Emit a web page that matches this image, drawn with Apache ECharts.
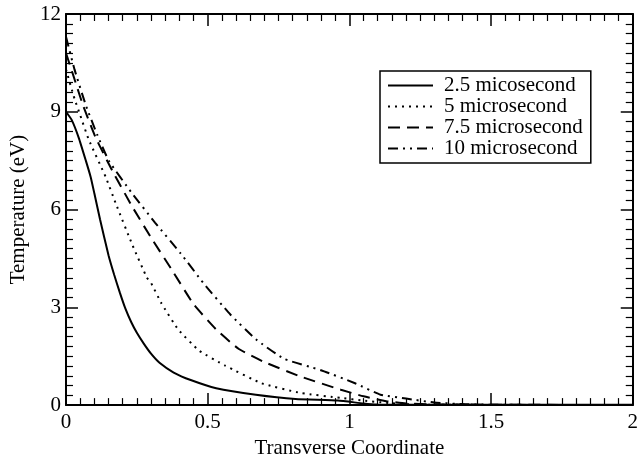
<!DOCTYPE html>
<html>
<head>
<meta charset="utf-8">
<script src="https://cdn.jsdelivr.net/npm/echarts@6/dist/echarts.min.js"></script>
<style>
  html, body { margin: 0; padding: 0; background: #fff; }
  #chart { width: 641px; height: 464px; }
</style>
</head>
<body>
<div id="chart"></div>
<script>
// Temperature profiles across the transverse coordinate at four times
const seriesNames = ['2.5 micosecond', '5 microsecond', '7.5 microsecond', '10 microsecond'];

const t25 = [[0,9],[0.02,8.75],[0.045,8.2],[0.07,7.5],[0.087,7.0],[0.1,6.5],[0.12,5.7],[0.15,4.6],[0.17,4.0],[0.19,3.45],[0.21,2.95],[0.23,2.55],[0.25,2.22],[0.275,1.88],[0.3,1.58],[0.33,1.3],[0.38,1.0],[0.44,0.77],[0.53,0.52],[0.67,0.32],[0.81,0.19],[0.96,0.14],[1.05,0.05],[1.1,0.02],[1.3,0.01],[2,0.01]];

const t5 = [[0,10.3],[0.03,9.4],[0.05,8.9],[0.08,8.15],[0.14,7.0],[0.175,6.2],[0.235,4.9],[0.285,3.92],[0.3,3.75],[0.337,3.12],[0.396,2.32],[0.47,1.67],[0.56,1.22],[0.69,0.67],[0.83,0.37],[0.97,0.22],[1.05,0.14],[1.13,0.07],[1.2,0.03],[1.3,0.01],[2,0]];

const t75 = [[0,10.8],[0.03,10.0],[0.06,9.2],[0.105,8.2],[0.163,7.2],[0.233,6.1],[0.303,5.1],[0.37,4.2],[0.45,3.1],[0.53,2.32],[0.61,1.72],[0.7,1.32],[0.83,0.87],[0.97,0.47],[1.05,0.27],[1.13,0.12],[1.2,0.05],[1.3,0.02],[2,0]];

const t10 = [[0,11.3],[0.03,10.3],[0.07,9.2],[0.11,8.3],[0.151,7.5],[0.233,6.5],[0.314,5.6],[0.405,4.65],[0.487,3.72],[0.58,2.78],[0.67,2.02],[0.77,1.42],[0.9,1.07],[1.02,0.67],[1.11,0.32],[1.2,0.2],[1.3,0.08],[1.4,0.03],[1.5,0.01],[2,0]];

const xTicks = { min: 0, max: 2, interval: 0.5 };
const yTicks = { min: 0, max: 12, interval: 3 };

const font = 'Liberation Serif';
const ink = '#000';

function frameAxis(extra) {
  return Object.assign({
    axisLine: { show: true, onZero: false, lineStyle: { color: ink, width: 2 } },
    axisTick: { show: true, inside: true, length: 12, lineStyle: { color: ink, width: 1.5 } },
    minorTick: { show: true, splitNumber: 10, length: 7, lineStyle: { color: ink, width: 1.2 } },
    splitLine: { show: false },
    minorSplitLine: { show: false }
  }, extra);
}

const labelStyle = { color: ink, fontFamily: font, fontSize: 21 };

const dashStyles = ['solid', [2, 5], [12, 7], [10, 5, 2, 5, 2, 5]];
const dataSets = [t25, t5, t75, t10];

const chart = echarts.init(document.getElementById('chart'), null, { renderer: 'canvas' });

chart.setOption({
  animation: false,
  backgroundColor: '#fff',
  grid: { left: 65, right: 3, top: 14, bottom: 50, containLabel: false },
  legend: {
    data: seriesNames,
    orient: 'vertical',
    left: 380,
    top: 71,
    padding: [4, 8, 4, 7],
    itemGap: 0,
    itemWidth: 45,
    itemHeight: 20,
    borderColor: ink,
    borderWidth: 1.5,
    itemStyle: { opacity: 0 },
    textStyle: { color: ink, fontFamily: font, fontSize: 21, lineHeight: 20, padding: [0, 0, 0, 6] }
  },
  xAxis: [
    frameAxis({
      type: 'value', position: 'bottom',
      min: xTicks.min, max: xTicks.max, interval: xTicks.interval,
      name: 'Transverse Coordinate', nameLocation: 'middle', nameGap: 29,
      nameTextStyle: labelStyle,
      axisLabel: Object.assign({ margin: 7, formatter: v => String(v) }, labelStyle)
    }),
    frameAxis({
      type: 'value', position: 'top',
      min: xTicks.min, max: xTicks.max, interval: xTicks.interval,
      axisLabel: { show: false }
    })
  ],
  yAxis: [
    frameAxis({
      type: 'value', position: 'left',
      min: yTicks.min, max: yTicks.max, interval: yTicks.interval,
      name: 'Temperature (eV)', nameLocation: 'middle', nameGap: 37,
      nameTextStyle: labelStyle,
      axisLabel: Object.assign({ margin: 5 }, labelStyle)
    }),
    frameAxis({
      type: 'value', position: 'right',
      min: yTicks.min, max: yTicks.max, interval: yTicks.interval,
      axisLabel: { show: false }
    })
  ],
  series: seriesNames.map((name, i) => ({
    name: name,
    type: 'line',
    data: dataSets[i],
    showSymbol: false,
    symbol: 'none',
    smooth: 0.15,
    color: ink,
    lineStyle: { color: ink, width: 2, type: dashStyles[i] }
  }))
});
</script>
</body>
</html>
